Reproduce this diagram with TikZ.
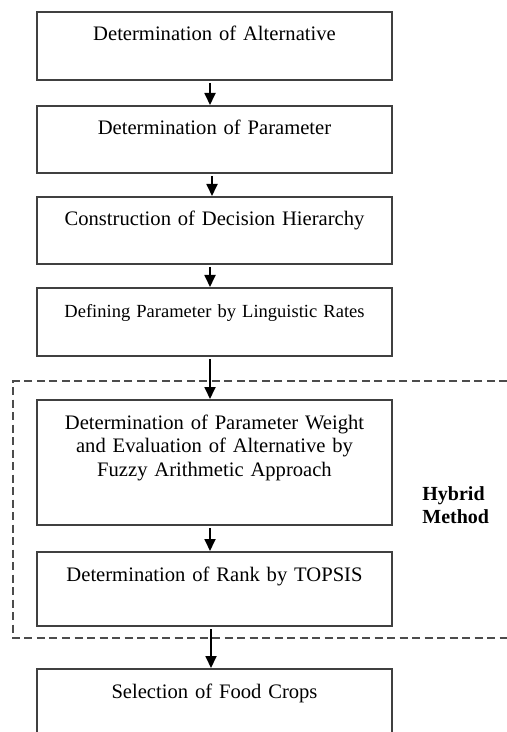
\documentclass[tikz,border=0pt]{standalone}
\usepackage{fontspec}
\setmainfont{Liberation Serif}
\usetikzlibrary{arrows.meta}
\begin{document}
\begin{tikzpicture}[x=0.5pt,y=-0.5pt,
    stepbox/.style={draw=black!75,line width=1pt,anchor=north,inner sep=0pt,
      text width=177.5pt,align=center,text height=14.5pt,
      font=\fontsize{10.3pt}{11.75pt}\selectfont},
    flow/.style={-{Triangle[width=5.5pt,length=6pt]},line width=0.9pt,shorten <=1pt}]
    \useasboundingbox (0,0) rectangle (507,732);
    \node[stepbox,text depth=19.5pt] (alt) at (214.5,11) {Determination of Alternative};
    \node[stepbox,text depth=19pt] (par) at (214.5,105) {Determination of Parameter};
    \node[stepbox,text depth=19pt] (hier) at (214.5,196) {Construction of Decision Hierarchy};
    \node[stepbox,text depth=19.5pt,font=\fontsize{9.25pt}{11pt}\selectfont] (ling) at (214.5,287) {Defining Parameter by Linguistic Rates};
    \node[stepbox,text depth=48pt] (weight) at (214.5,399) {Determination of Parameter Weight\\and Evaluation of Alternative by\\Fuzzy Arithmetic Approach};
    \node[stepbox,text depth=22.5pt] (rank) at (214.5,551) {Determination of Rank by TOPSIS};
    \node[stepbox,text depth=24pt] (crops) at (214.5,668) {Selection of Food Crops};
    \draw[black!70,line width=0.9pt,dash pattern=on 4pt off 2.25pt] (507,381) -| (13,638) -- (507,638);
    \node[font=\bfseries\fontsize{10pt}{11.5pt}\selectfont,align=left,anchor=west,inner sep=0pt] (hybrid) at (422,505) {Hybrid\\Method};
    \draw[flow] ([xshift=-2.25pt]alt.south) -- ([xshift=-2.25pt]par.north);
    \draw[flow] ([xshift=-1.25pt]par.south) -- ([xshift=-1.25pt]hier.north);
    \draw[flow] ([xshift=-2.25pt]hier.south) -- ([xshift=-2.25pt]ling.north);
    \draw[flow] ([xshift=-2.25pt]ling.south) -- ([xshift=-2.25pt]weight.north);
    \draw[flow] ([xshift=-2.25pt]weight.south) -- ([xshift=-2.25pt]rank.north);
    \draw[flow] ([xshift=-1.75pt]rank.south) -- ([xshift=-1.75pt]crops.north);
\end{tikzpicture}
\end{document}
